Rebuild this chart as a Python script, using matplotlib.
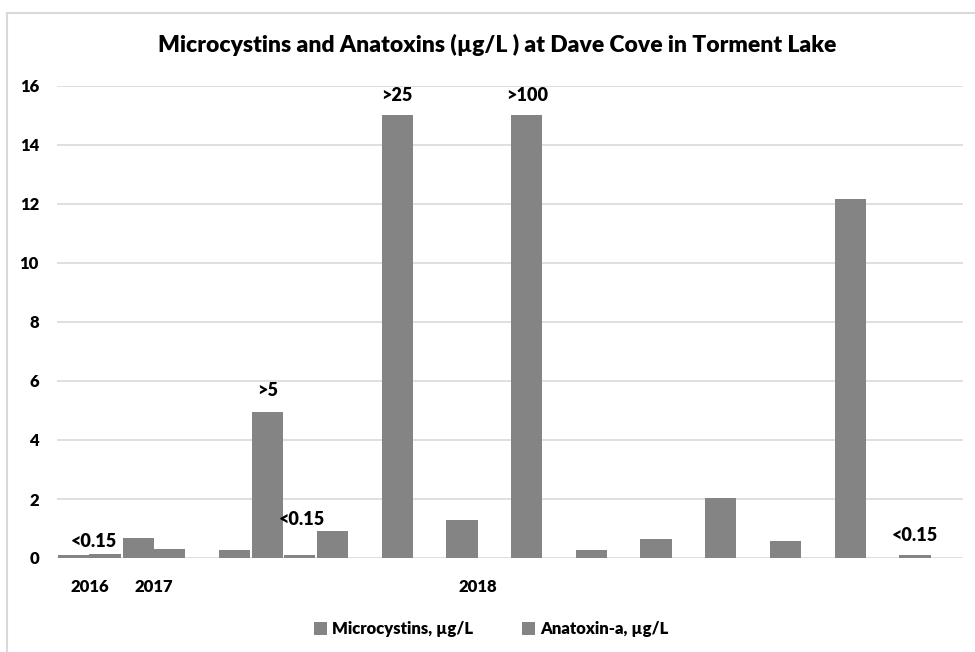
import numpy as np
import matplotlib.pyplot as plt
from matplotlib.lines import Line2D

plt.rcParams['font.family'] = ['Lato', 'DejaVu Sans']
plt.rcParams['font.weight'] = 'heavy'

# sampling events along the x axis, only a few of them carry a year label
year_labels = ['2016', '2017', '', '', '', '', '2018', '', '', '', '', '', '', '']
microcystins = [0.10, 0.69, np.nan, 4.95, 0.92, 15.0, 1.29, 15.0, 0.27, 0.64, 2.03, 0.59, 12.17, 0.10]
anatoxin = [0.12, 0.32, 0.26, 0.10, np.nan, np.nan, np.nan, np.nan, np.nan, np.nan, np.nan, np.nan, np.nan, np.nan]

# data labels: (event index, series, text)
label_event = [0, 3, 3, 5, 7, 13]
label_series = ['ana', 'micro', 'ana', 'micro', 'micro', 'micro']
label_text = ['<0.15', '>5', '<0.15', '>25', '>100', '<0.15']
label_shift = [(-11, 13), (0, 21), (3, 36), (0, 20), (0, 20), (0, 20)]  # pixels

BAR = '#848484'
GRID = '#d9d9d9'

fig = plt.figure(figsize=(9.75, 6.52), dpi=100)
W, H = 975, 652
ax = fig.add_axes([57 / W, (H - 558) / H, (963 - 57) / W, (558 - 86) / H])

x = np.arange(len(year_labels))
w = 0.485
ax.bar(x - w / 2, microcystins, w, color=BAR, label='Microcystins, µg/L')
ax.bar(x + w / 2, anatoxin, w, color=BAR, label='Anatoxin-a, µg/L')

for k, s, t, (dx, dy) in zip(label_event, label_series, label_text, label_shift):
    if s == 'micro':
        xx, yy = x[k] - w / 2, microcystins[k]
    else:
        xx, yy = x[k] + w / 2, anatoxin[k]
    ax.annotate(t, (xx, yy), xytext=(dx, dy), textcoords='offset pixels',
                ha='center', va='center', fontsize=13, fontweight='heavy')

ax.set_xlim(-0.5, len(year_labels) - 0.5)
ax.set_ylim(0, 16)
ax.set_yticks(range(0, 17, 2))
ax.set_xticks(x)
ax.set_xticklabels(year_labels)
ax.tick_params(axis='y', length=0, pad=13, labelsize=12)
ax.tick_params(axis='x', length=0, pad=15, labelsize=12)
ax.grid(axis='y', color=GRID, linewidth=1.2)
ax.set_axisbelow(True)
for sp in ax.spines.values():
    sp.set_visible(False)

fig.text(496.7 / W, 1 - 45 / H, 'Microcystins and Anatoxins (µg/L ) at Dave Cove in Torment Lake',
         ha='center', va='center', fontsize=16.5, fontweight='heavy')

fig.legend(loc='center', bbox_to_anchor=(491 / W, 23 / H), ncol=2, frameon=False,
           fontsize=12, handlelength=0.8, handleheight=0.8, handletextpad=0.3,
           columnspacing=2.9)

# chart border (only left and top edges fall inside the picture)
fig.add_artist(Line2D([7 / W, 7 / W], [0, 1 - 13 / H], color=GRID, lw=1.5))
fig.add_artist(Line2D([7 / W, 1], [1 - 13 / H, 1 - 13 / H], color=GRID, lw=1.5))

fig.savefig('out.png', dpi=100)
